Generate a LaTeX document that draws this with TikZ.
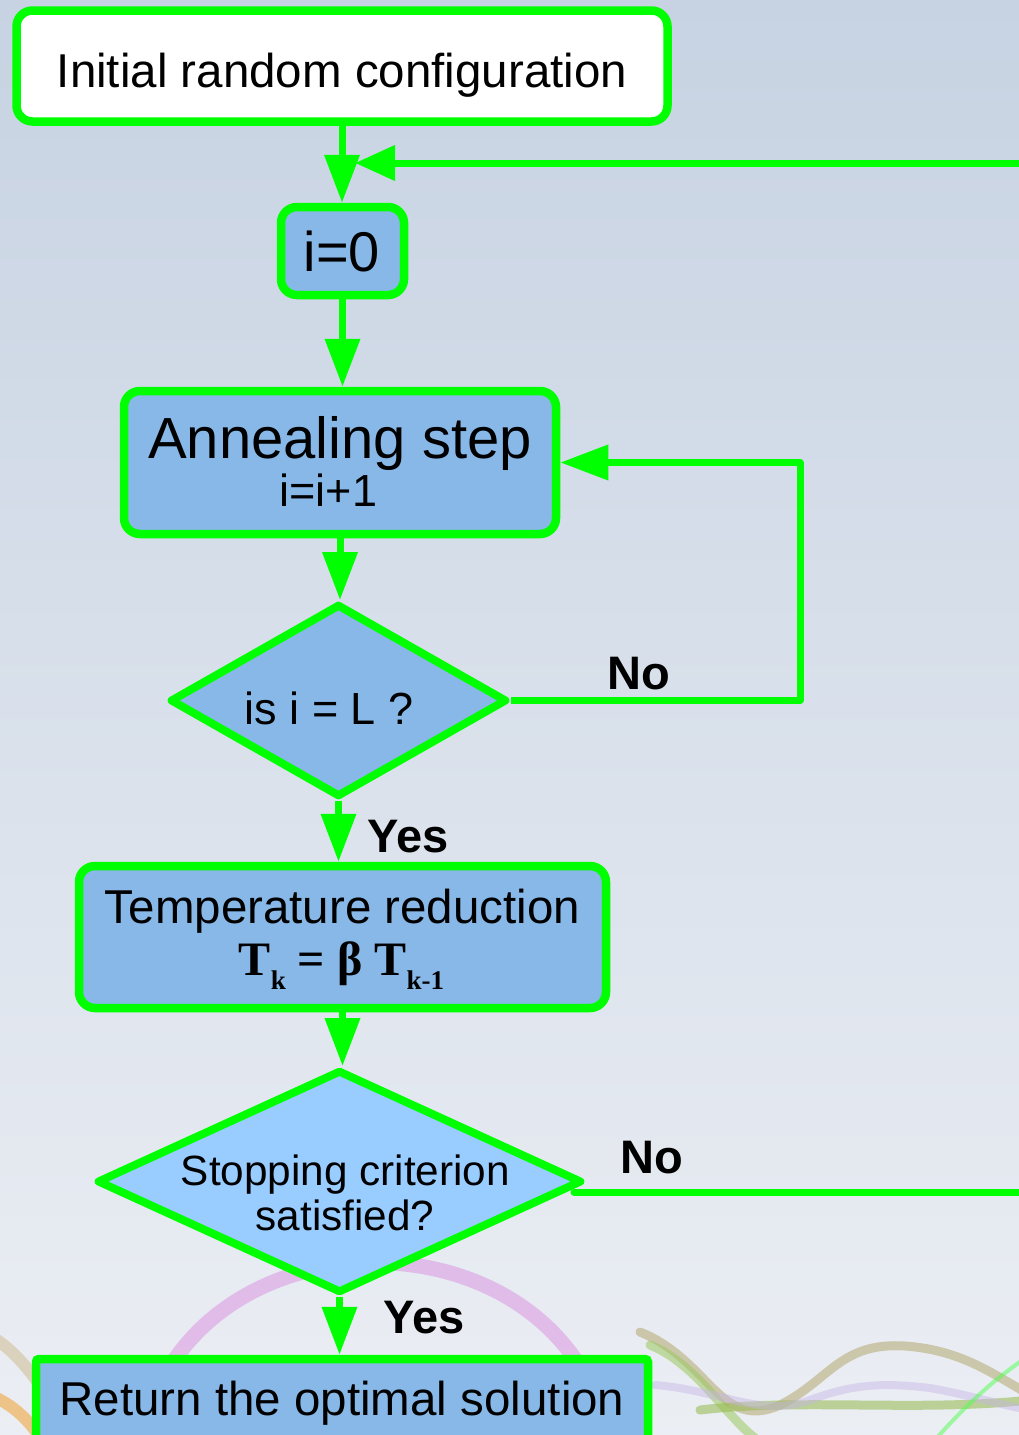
\documentclass[tikz,border=0pt]{standalone}
\usepackage{fontspec}
\setmainfont{Liberation Sans}
\newfontfamily\tsf{Liberation Serif}
\usetikzlibrary{arrows.meta,shapes.geometric,calc}
\definecolor{grn}{HTML}{00FF00}
\definecolor{boxblue}{HTML}{87B8E8}
\definecolor{diablue}{HTML}{99CCFF}
\definecolor{bgA}{HTML}{C2CFE0}
\definecolor{bgM}{HTML}{DAE1EB}
\definecolor{bgB}{HTML}{F0F2F6}
\definecolor{wpink}{HTML}{DC96E0}
\definecolor{wolive}{HTML}{B4A870}
\definecolor{wgreen}{HTML}{9CC860}
\definecolor{wpurp}{HTML}{C8B4E6}
\definecolor{worange}{HTML}{F0A030}
\tikzset{
  box/.style={draw=grn, line width=8.5pt, fill=boxblue, rounded corners=16pt, inner sep=0pt},
  dia/.style={draw=grn, line width=8pt, fill=boxblue, diamond, inner sep=0pt, line join=round},
  conn/.style={draw=grn, line width=7pt, line join=round},
  arr/.style={conn, -{Triangle[length=48pt,width=34pt]}},
  txt/.style={anchor=base, inner sep=0pt, font=\fontsize{47.5}{50}\selectfont},
  lbl/.style={anchor=base, inner sep=0pt, font=\fontsize{47}{50}\selectfont\bfseries},
  wave/.style={line width=12pt, opacity=0.55, line cap=round},
}
\begin{document}
\begin{tikzpicture}[x=1pt,y=-1pt]
\useasboundingbox (0,0) rectangle (1019,1435);
\clip (0,0) rectangle (1019,1435);
% background
\shade[shading angle=25, top color=bgA, middle color=bgM, bottom color=bgB] (-300,-200) rectangle (1319,1635);
% decorative waves
\draw[wave, color=wpink, line width=15pt] (165,1375) .. controls (250,1225) and (500,1225) .. (585,1375);
\draw[wave, color=worange] (-20,1392) .. controls (10,1400) and (30,1420) .. (45,1445);
\draw[wave, color=wolive!80!orange, opacity=0.35] (-20,1330) .. controls (10,1345) and (25,1365) .. (40,1385);
\draw[wave, color=wolive, line width=9pt] (640,1332) .. controls (710,1360) and (720,1432) .. (780,1405) .. controls (830,1380) and (840,1342) .. (905,1346) .. controls (960,1350) and (990,1372) .. (1030,1395);
\draw[wave, color=wgreen, line width=9pt] (650,1345) .. controls (700,1365) and (730,1425) .. (765,1445);
\draw[wave, color=wgreen!80!olive, line width=9pt] (700,1410) .. controls (800,1398) and (920,1412) .. (1030,1400);
\draw[wave, color=wpurp, line width=8pt, opacity=0.45] (655,1385) .. controls (720,1390) and (760,1418) .. (810,1400) .. controls (850,1385) and (880,1382) .. (930,1388) .. controls (970,1395) and (1000,1405) .. (1030,1410);
\draw[wave, color=grn!70!white, line width=4pt, opacity=0.5] (935,1440) .. controls (970,1400) and (1000,1375) .. (1030,1355);
% nodes
\node[box, fill=white, minimum width=651pt, minimum height=111pt] (init) at (342,66) {};
\node[txt] (initT) at (342,87) {Initial random configuration};
\node[box, minimum width=123pt, minimum height=88pt] (i0) at (342.5,251) {};
\node[txt, font=\fontsize{56}{60}\selectfont] (i0T) at (342,271) {i=0};
\node[box, minimum width=432pt, minimum height=143pt] (ann) at (340,462.5) {};
\node[txt, font=\fontsize{58}{60}\selectfont] (annT1) at (340,458) {Annealing step};
\node[txt, font=\fontsize{45}{50}\selectfont] (annT2) at (328.5,506) {i=i+1};
\node[dia, minimum width=337pt, minimum height=193pt] (d1) at (338.5,700.5) {};
\node[txt, font=\fontsize{45}{50}\selectfont] (d1T) at (329,724) {is i = L ?};
\node[box, minimum width=527pt, minimum height=142pt] (temp) at (342.5,937) {};
\node[txt] (tempT1) at (342.5,923) {Temperature reduction};
\node[txt, font=\tsf\bfseries\fontsize{48}{50}\selectfont] (tempT2) at (341.5,975)
  {T\raisebox{-14pt}{\fontsize{27}{30}\selectfont k} = β T\raisebox{-14pt}{\fontsize{27}{30}\selectfont k-1}};
\node[dia, fill=diablue, minimum width=485pt, minimum height=223pt] (d2) at (339.5,1181.5) {};
\node[txt, font=\fontsize{42.3}{45}\selectfont] (d2T1) at (345.5,1185) {Stopping criterion};
\node[txt, font=\fontsize{42.3}{45}\selectfont] (d2T2) at (345,1230) {satisfied?};
\node[box, rounded corners=3pt, minimum width=612pt, minimum height=100pt] (ret) at (342,1409) {};
\node[txt] (retT) at (342,1415) {Return the optimal solution};
% labels
\node[lbl] (no1) at (639,689) {No};
\node[lbl] (yes1) at (408,852) {Yes};
\node[lbl] (no2) at (652,1173) {No};
\node[lbl] (yes2) at (424,1333) {Yes};
% connectors
\coordinate (topin) at (1035,163);
\coordinate (merge) at (355,163);
\coordinate (loopc) at (800,700.5);
\coordinate (out2) at (1035,1192);
\draw[arr] (init.south) -- (init.south |- i0.north);
\draw[conn, -{Triangle[length=40pt,width=34pt]}] (topin) -- (merge);
\draw[arr] (i0.south) -- (i0.south |- ann.north);
\draw[arr] (ann.south) -- (ann.south |- d1.north);
\draw[arr] (d1.east) -- (d1.east -| loopc) |- (ann.east);
\draw[arr] (d1.south) -- (d1.south |- temp.north);
\draw[arr] (temp.south) -- (temp.south |- d2.north);
\draw[arr] (d2.south) -- (d2.south |- ret.north);
\draw[conn, line cap=round] ([xshift=-12pt,yshift=-10.5pt]d2.east) -- ([xshift=-12pt,yshift=-10.5pt]d2.east -| out2);
\end{tikzpicture}
\end{document}
